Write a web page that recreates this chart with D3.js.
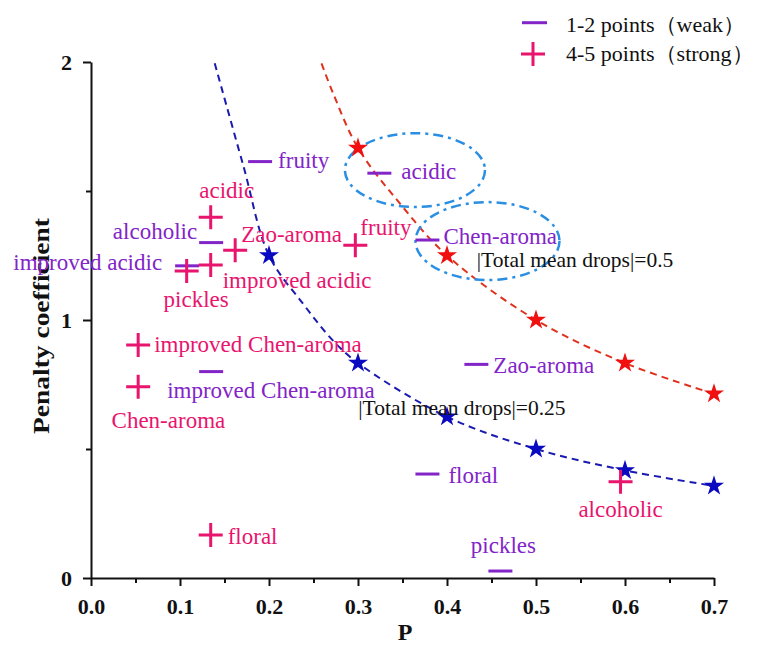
<!DOCTYPE html>
<html>
<head>
<meta charset="utf-8">
<script src="https://cdn.jsdelivr.net/npm/d3@7"></script>
<style>
  html, body { margin: 0; padding: 0; background: #fff; }
  svg { display: block; }
  text { font-family: "Liberation Serif", "Times New Roman", serif; }
</style>
</head>
<body>
<svg id="chart" width="757" height="647"></svg>
<script>
// ---------------- DATA ----------------
const xTickValues = [0.0, 0.1, 0.2, 0.3, 0.4, 0.5, 0.6, 0.7];
const xMinorTicks = [0.05, 0.15, 0.25, 0.35, 0.45, 0.55, 0.65];
const yTickValues = [0, 1, 2];
const yMinorTicks = [0.5, 1.5];

// weak (1-2 points) attributes
const weakNames = ["fruity", "acidic", "Chen-aroma", "alcoholic", "improved acidic",
                   "improved Chen-aroma", "Zao-aroma", "floral", "pickles"];
const weakP     = [0.190, 0.324, 0.378, 0.135, 0.108, 0.135, 0.433, 0.378, 0.460];
const weakCoef  = [1.614, 1.569, 1.310, 1.300, 1.210, 0.800, 0.828, 0.403, 0.027];

// strong (4-5 points) attributes
const strongNames = ["acidic", "improved acidic", "pickles", "Zao-aroma", "fruity",
                     "improved Chen-aroma", "Chen-aroma", "floral", "alcoholic"];
const strongP     = [0.1345, 0.1345, 0.1075, 0.162, 0.297, 0.053, 0.053, 0.1345, 0.595];
const strongCoef  = [1.398, 1.213, 1.190, 1.270, 1.290, 0.903, 0.741, 0.167, 0.373];

// |Total mean drops| = 0.25 (blue stars)
const blueStarP    = [0.2, 0.3, 0.4, 0.5, 0.6, 0.7];
const blueStarCoef = [1.25, 0.833, 0.625, 0.5, 0.417, 0.357];
// |Total mean drops| = 0.5 (red stars)
const redStarP     = [0.3, 0.4, 0.5, 0.6, 0.7];
const redStarCoef  = [1.667, 1.25, 1.0, 0.833, 0.714];

// dashed curves
const blueCurveP    = [0.139, 0.171, 0.2, 0.2385, 0.272, 0.3, 0.4, 0.5, 0.6, 0.7];
const blueCurveCoef = [1.995, 1.60, 1.25, 1.062, 0.920, 0.833, 0.625, 0.5, 0.417, 0.357];
const redCurveP     = [0.259, 0.272, 0.3, 0.347, 0.4, 0.5, 0.6, 0.7];
const redCurveCoef  = [1.995, 1.879, 1.667, 1.452, 1.25, 1.0, 0.833, 0.714];

// annotations
const noteTexts = ["|Total mean drops|=0.5", "|Total mean drops|=0.25"];
const noteP     = [0.4334, 0.3003];
const noteCoef  = [1.207, 0.632];

// highlight ellipses (center P, center coef, half-width in P, half-height in coef)
const ellipseP     = [0.364, 0.4455];
const ellipseCoef  = [1.581, 1.306];
const ellipseRP    = [0.0787, 0.0809];
const ellipseRCoef = [0.143, 0.151];

const legendLabels = ["1-2 points\uFF08weak\uFF09", "4-5 points\uFF08strong\uFF09"];
const xTitle = "P";
const yTitle = "Penalty coefficient";

// ---------------- LAYOUT / STYLE ----------------
const weakLabelLayout = [
  ["start", 18, 6.5], ["start", 22, 6], ["start", 16, 3.5], ["end", -14, -3.5],
  ["end", -25, 4], ["start", -44, 26], ["start", 17, 9], ["start", 21, 9], ["middle", 3, -18]
];
const strongLabelLayout = [
  ["middle", 16, -19], ["start", 12, 23], ["middle", 9.5, 36], ["start", 6, -8],
  ["start", 5, -10], ["start", 16, 6.7], ["start", -26.6, 41], ["start", 17, 9], ["middle", 0, 35.6]
];

const PURPLE = "#8224C8";
const PINK = "#E8146E";
const BLUE_STAR = "#0A0AC0";
const RED_STAR = "#F01010";
const BLUE_LINE = "#1A1AB0";
const RED_LINE = "#E0301E";
const ELLIPSE = "#2A8FE2";

const svg = d3.select("#chart");
const x = d3.scaleLinear().domain([0, 0.7]).range([91, 714]);
const y = d3.scaleLinear().domain([0, 2]).range([578, 62]);

// ---------------- AXES ----------------
const axisFont = 22;
svg.append("g").attr("transform", `translate(0,${y(0)})`)
  .call(d3.axisBottom(x).tickValues(xTickValues).tickSize(8).tickSizeOuter(0)
        .tickPadding(12).tickFormat(d3.format(".1f")));
svg.append("g").attr("transform", `translate(0,${y(0)})`)
  .call(d3.axisBottom(x).tickValues(xMinorTicks).tickSize(5).tickSizeOuter(0).tickFormat(""))
  .select(".domain").remove();
svg.append("g").attr("transform", `translate(${x(0)},0)`)
  .call(d3.axisLeft(y).tickValues(yTickValues).tickSize(8).tickSizeOuter(0)
        .tickPadding(11).tickFormat(d3.format("d")));
svg.append("g").attr("transform", `translate(${x(0)},0)`)
  .call(d3.axisLeft(y).tickValues(yMinorTicks).tickSize(5).tickSizeOuter(0).tickFormat(""))
  .select(".domain").remove();

svg.selectAll(".domain").attr("stroke", "#111").attr("stroke-width", 2);
svg.selectAll(".tick line").attr("stroke", "#111").attr("stroke-width", 2);
svg.selectAll(".tick text")
  .attr("font-family", "Liberation Serif, serif")
  .attr("font-size", axisFont).attr("font-weight", "bold").attr("fill", "#111");

svg.append("text").attr("x", 405).attr("y", 640).attr("text-anchor", "middle")
  .attr("font-size", 24).attr("font-weight", "bold").attr("fill", "#111").text(xTitle);
svg.append("text").attr("transform", "translate(49,326) rotate(-90)")
  .attr("text-anchor", "middle").attr("font-size", 24).attr("font-weight", "bold")
  .attr("fill", "#111").attr("textLength", 216).attr("lengthAdjust", "spacingAndGlyphs")
  .text(yTitle);

// ---------------- CURVES ----------------
const line = d3.line().x(d => x(d[0])).y(d => y(d[1])).curve(d3.curveCatmullRom.alpha(0.5));
svg.append("path").datum(d3.zip(blueCurveP, blueCurveCoef))
  .attr("d", line).attr("fill", "none").attr("stroke", BLUE_LINE)
  .attr("stroke-width", 2).attr("stroke-dasharray", "7,5");
svg.append("path").datum(d3.zip(redCurveP, redCurveCoef))
  .attr("d", line).attr("fill", "none").attr("stroke", RED_LINE)
  .attr("stroke-width", 2).attr("stroke-dasharray", "7,5");

// ---------------- ELLIPSES ----------------
svg.selectAll("ellipse.hl").data(d3.range(ellipseP.length)).join("ellipse")
  .attr("class", "hl")
  .attr("cx", i => x(ellipseP[i])).attr("cy", i => y(ellipseCoef[i]))
  .attr("rx", i => x(ellipseRP[i]) - x(0)).attr("ry", i => y(0) - y(ellipseRCoef[i]))
  .attr("fill", "none").attr("stroke", ELLIPSE).attr("stroke-width", 2.5)
  .attr("stroke-dasharray", "10,5,3,5");

// ---------------- STARS ----------------
const star = d3.symbol().type(d3.symbolStar).size(125);
svg.selectAll("path.bstar").data(d3.zip(blueStarP, blueStarCoef)).join("path")
  .attr("class", "bstar").attr("d", star)
  .attr("transform", d => `translate(${x(d[0])},${y(d[1])})`).attr("fill", BLUE_STAR);
svg.selectAll("path.rstar").data(d3.zip(redStarP, redStarCoef)).join("path")
  .attr("class", "rstar").attr("d", star)
  .attr("transform", d => `translate(${x(d[0])},${y(d[1])})`).attr("fill", RED_STAR);

// ---------------- WEAK MARKERS ----------------
const labelFont = 23;
const weak = d3.range(weakNames.length).map(i => ({ n: weakNames[i], p: weakP[i], c: weakCoef[i], l: weakLabelLayout[i] }));
svg.selectAll("line.weak").data(weak).join("line").attr("class", "weak")
  .attr("x1", d => x(d.p) - 12).attr("x2", d => x(d.p) + 12)
  .attr("y1", d => y(d.c)).attr("y2", d => y(d.c))
  .attr("stroke", PURPLE).attr("stroke-width", 3);
svg.selectAll("text.weak").data(weak).join("text").attr("class", "weak")
  .attr("x", d => x(d.p) + d.l[1]).attr("y", d => y(d.c) + d.l[2])
  .attr("text-anchor", d => d.l[0]).attr("font-size", labelFont).attr("fill", PURPLE)
  .text(d => d.n);

// ---------------- STRONG MARKERS ----------------
const strong = d3.range(strongNames.length).map(i => ({ n: strongNames[i], p: strongP[i], c: strongCoef[i], l: strongLabelLayout[i] }));
const plusPath = "M-12,0H12M0,-12V12";
svg.selectAll("path.strong").data(strong).join("path").attr("class", "strong")
  .attr("d", plusPath).attr("transform", d => `translate(${x(d.p)},${y(d.c)})`)
  .attr("stroke", PINK).attr("stroke-width", 3).attr("fill", "none");
svg.selectAll("text.strong").data(strong).join("text").attr("class", "strong")
  .attr("x", d => x(d.p) + d.l[1]).attr("y", d => y(d.c) + d.l[2])
  .attr("text-anchor", d => d.l[0]).attr("font-size", labelFont).attr("fill", PINK)
  .text(d => d.n);

// ---------------- NOTES ----------------
svg.selectAll("text.note").data(d3.range(noteTexts.length)).join("text").attr("class", "note")
  .attr("x", i => x(noteP[i])).attr("y", i => y(noteCoef[i]))
  .attr("font-size", 21.5).attr("fill", "#111").text(i => noteTexts[i]);

// ---------------- LEGEND ----------------
const lg = svg.append("g");
lg.append("line").attr("x1", 522).attr("x2", 547).attr("y1", 22.7).attr("y2", 22.7)
  .attr("stroke", PURPLE).attr("stroke-width", 3);
lg.append("path").attr("d", plusPath).attr("transform", "translate(533,54)")
  .attr("stroke", PINK).attr("stroke-width", 3);
lg.selectAll("text").data(legendLabels).join("text")
  .attr("x", 566).attr("y", (d, i) => 31.5 + i * 29.5)
  .attr("font-size", 22).attr("fill", "#111").text(d => d);
</script>
</body>
</html>
